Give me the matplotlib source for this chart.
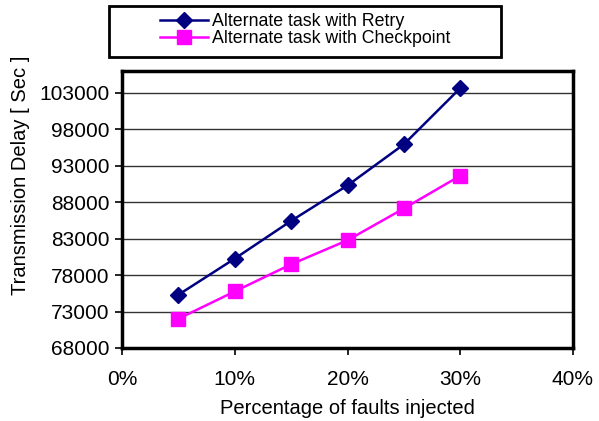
import matplotlib
matplotlib.use("Agg")
import matplotlib.pyplot as plt
from matplotlib.ticker import PercentFormatter
from matplotlib.patches import Rectangle

plt.rcParams['font.family'] = ['Liberation Sans', 'DejaVu Sans']

x_pct = [5, 10, 15, 20, 25, 30]
retry = [75300, 80260, 85440, 90300, 95940, 103650]
checkpoint = [72010, 75760, 79480, 82780, 87140, 91630]
labels = ["Alternate task with Retry", "Alternate task with Checkpoint"]
y_ticks = [68000, 73000, 78000, 83000, 88000, 93000, 98000, 103000]
x_ticks = [0, 10, 20, 30, 40]

W, H = 599, 421
fig = plt.figure(figsize=(W/100, H/100), dpi=100)
ax = fig.add_axes([122/W, 1-348/H, (573-122)/W, (348-71)/H])

ax.plot(x_pct, retry, color='#000080', marker='D', markersize=8, linewidth=1.8, label=labels[0])
ax.plot(x_pct, checkpoint, color='#FF00FF', marker='s', markersize=10, linewidth=1.8, label=labels[1])

ax.set_xlim(0, 40)
ax.set_ylim(68000, 106000)
ax.set_yticks(y_ticks)
ax.set_yticklabels([str(v) for v in y_ticks])
ax.set_xticks(x_ticks)
ax.xaxis.set_major_formatter(PercentFormatter(decimals=0))
ax.yaxis.grid(True, color='#333333', linewidth=1)
ax.set_axisbelow(True)
for s in ax.spines.values():
    s.set_linewidth(2.5)
ax.tick_params(axis='both', direction='out', length=5, width=1.2, labelsize=15)
ax.tick_params(axis='y', pad=4)
ax.tick_params(axis='x', pad=11)
ax.set_xlabel("Percentage of faults injected", fontsize=14.5, labelpad=7)
ax.set_ylabel("Transmission Delay [ Sec ]", fontsize=14.5)
ax.yaxis.set_label_coords(-0.205, 0.625)

leg = fig.legend(loc='center', bbox_to_anchor=(305/W, 1-30/H),
                 fontsize=12.8, frameon=False,
                 handlelength=2.7, handletextpad=0.2, labelspacing=0.0,
                 borderpad=0.6)
fig.patches.append(Rectangle((109/W, 1-57/H), (501-109)/W, (57-6)/H,
                             transform=fig.transFigure, fill=False,
                             edgecolor='black', linewidth=2, zorder=5))

fig.savefig("out.png", dpi=100)
